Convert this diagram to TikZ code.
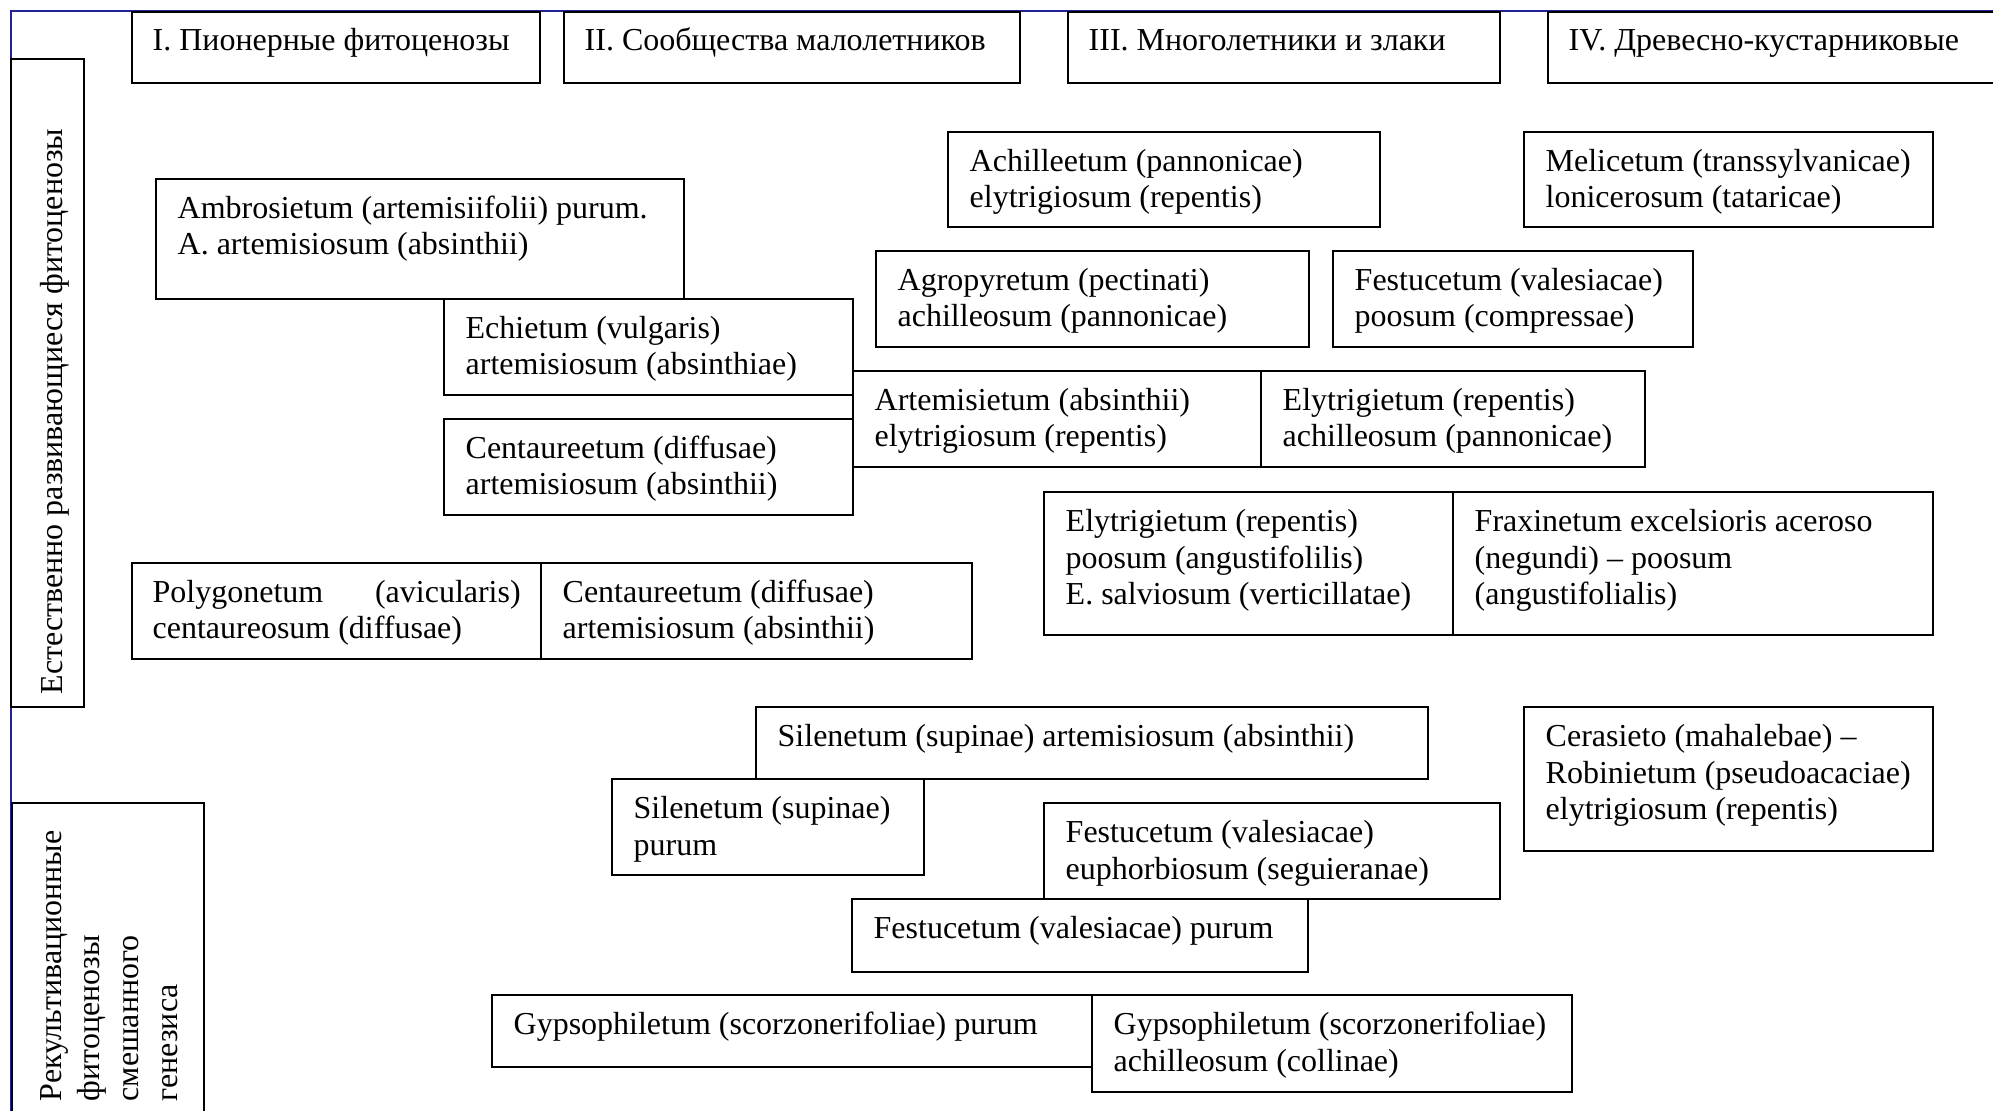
\documentclass[tikz,border=0pt]{standalone}
\usepackage{fontspec}
\setmainfont{Liberation Serif}
\definecolor{framblue}{RGB}{34,34,150}
\tikzstyle{cell} = [draw, line width=0.6pt]
\tikzstyle{blueline} = [draw=framblue, line width=0.8pt]
% base of a text = baseline of its last line
\tikzstyle{txt} = [anchor=base west, align=left, inner sep=0pt, font=\fontsize{9.1}{10.5}\selectfont]

\begin{document}
\begin{tikzpicture}[x=0.1mm, y=-0.1mm]
  \useasboundingbox (0,0) rectangle (1993,1111);
  \clip (0,0) rectangle (1993,1111);

  % frame
  \draw[blueline] (11,1130) -- (11,11) -- (2010,11);

  % stages
  \draw[cell] (132,12) rectangle (540,83);
  \node[txt] (st1) at (152,51) {I. Пионерные фитоценозы};
  \draw[cell] (564,12) rectangle (1020,83);
  \node[txt] (st2) at (584,51) {II. Сообщества малолетников};
  \draw[cell] (1068,12) rectangle (1500,83);
  \node[txt] (st3) at (1088,51) {III. Многолетники и злаки};
  \draw[cell] (1548,12) rectangle (2010,83);
  \node[txt] (st4) at (1568,51) {IV. Древесно-кустарниковые};

  % rows
  \draw[cell] (11,59) rectangle (84,707);
  \node[txt, rotate=90] (nat) at (62,695) {Естественно развивающиеся фитоценозы};
  \draw[cell] (12,803) rectangle (204,1130);
  \node[txt, rotate=90, font=\fontsize{9.1}{11}\selectfont] (rec) at (177,1102) {Рекультивационные\\фитоценозы\\смешанного\\генезиса};

  % natural
  \draw[cell] (156,179) rectangle (684,299);
  \node[txt] (amb) at (177,255) {Ambrosietum (artemisiifolii) purum.\\A. artemisiosum (absinthii)};
  \draw[cell] (444,299) rectangle (853,395);
  \node[txt] (ech) at (465,375) {Echietum (vulgaris)\\artemisiosum (absinthiae)};
  \draw[cell] (444,419) rectangle (853,515);
  \node[txt] (cenA) at (465,495) {Centaureetum (diffusae)\\artemisiosum (absinthii)};
  \draw[cell] (853,371) rectangle (1261,467);
  \node[txt] (art) at (874,447) {Artemisietum (absinthii)\\elytrigiosum (repentis)};
  \draw[cell] (1261,371) rectangle (1645,467);
  \node[txt] (elyA) at (1282,447) {Elytrigietum (repentis)\\achilleosum (pannonicae)};
  \draw[cell] (948,132) rectangle (1380,227);
  \node[txt] (ach) at (969,208) {Achilleetum (pannonicae)\\elytrigiosum (repentis)};
  \draw[cell] (1524,132) rectangle (1933,227);
  \node[txt] (mel) at (1545,208) {Melicetum (transsylvanicae)\\lonicerosum (tataricae)};
  \draw[cell] (876,251) rectangle (1309,347);
  \node[txt] (agr) at (897,327) {Agropyretum (pectinati)\\achilleosum (pannonicae)};
  \draw[cell] (1333,251) rectangle (1693,347);
  \node[txt] (fesA) at (1354,327) {Festucetum (valesiacae)\\poosum (compressae)};
  \draw[cell] (1044,492) rectangle (1453,635);
  \node[txt] (elyB) at (1065,605) {Elytrigietum (repentis)\\poosum (angustifolilis)\\E. salviosum (verticillatae)};
  \draw[cell] (1453,492) rectangle (1933,635);
  \node[txt] (fra) at (1474,605) {Fraxinetum excelsioris aceroso\\(negundi) – poosum\\(angustifolialis)};
  \draw[cell] (132,563) rectangle (541,659);
  \node[txt] (pol) at (152,639) {\makebox[36.8mm][s]{Polygonetum\hfill(avicularis)}\\centaureosum (diffusae)};
  \draw[cell] (541,563) rectangle (972,659);
  \node[txt] (cenB) at (562,639) {Centaureetum (diffusae)\\artemisiosum (absinthii)};

  % recultivation
  \draw[cell] (756,707) rectangle (1428,779);
  \node[txt] (silA) at (777,746) {Silenetum (supinae) artemisiosum (absinthii)};
  \draw[cell] (1524,707) rectangle (1933,851);
  \node[txt] (cer) at (1545,820) {Cerasieto (mahalebae) –\\Robinietum (pseudoacaciae)\\elytrigiosum (repentis)};
  \draw[cell] (612,779) rectangle (924,875);
  \node[txt] (silB) at (633,855) {Silenetum (supinae)\\purum};
  \draw[cell] (1044,803) rectangle (1500,899);
  \node[txt] (fesB) at (1065,879) {Festucetum (valesiacae)\\euphorbiosum (seguieranae)};
  \draw[cell] (852,899) rectangle (1308,972);
  \node[txt] (fesC) at (873,938) {Festucetum (valesiacae) purum};
  \draw[cell] (492,995) rectangle (1092,1067);
  \node[txt] (gypA) at (513,1034) {Gypsophiletum (scorzonerifoliae) purum};
  \draw[cell] (1092,995) rectangle (1572,1092);
  \node[txt] (gypB) at (1113,1071) {Gypsophiletum (scorzonerifoliae)\\achilleosum (collinae)};
\end{tikzpicture}
\end{document}
